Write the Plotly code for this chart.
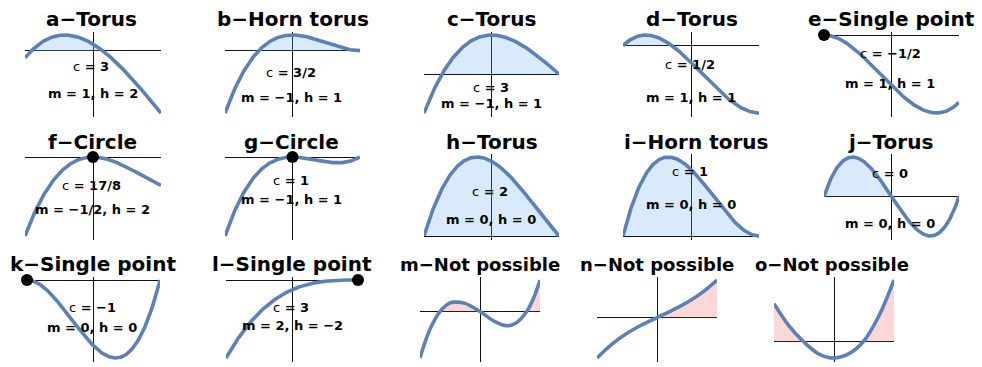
from fractions import Fraction

import numpy as np
import plotly.graph_objects as go

W, H = 982, 367

# ---- labelled panels: P(x) = (x^2 - 1)(x - c) - m*h*x - (m^2 + h^2)/2 on [-1, 1]
LETTERS = ["a", "b", "c", "d", "e", "f", "g", "h", "i", "j", "k", "l"]
KINDS = ["Torus", "Horn torus", "Torus", "Torus", "Single point",
         "Circle", "Circle", "Torus", "Horn torus", "Torus",
         "Single point", "Single point"]
C_TXT = ["3", "3/2", "3", "1/2", "−1/2", "17/8", "1", "2", "1", "0", "−1", "3"]
M_TXT = ["1", "−1", "−1", "1", "1", "−1/2", "−1", "0", "0", "0", "0", "2"]
H_TXT = ["2", "1", "1", "1", "1", "2", "1", "0", "0", "0", "0", "−2"]

# ---- unlabelled "Not possible" panels: curve samples (x, y)
NP_LETTERS = ["m", "n", "o"]
NP_X = [
    [-1, -0.9, -0.8, -0.667, -0.5, -0.417, -0.25, 0, 0.25, 0.444, 0.6, 0.778, 0.9, 1],
    [-1, -0.75, -0.5, -0.25, 0, 0.25, 0.5, 0.75, 1],
    [-1, -0.75, -0.51, -0.25, 0, 0.25, 0.49, 0.75, 1],
]
NP_Y = [
    [-46.7, -28.0, -13.5, 0, 8.6, 9.5, 8.2, 0, -10.2, -14.3, -11.5, 0, 14.5, 31.7],
    [-40.7, -26.7, -15.9, -7.3, 0, 7.2, 15.1, 25.0, 37.7],
    [38.3, 15.9, 0, -12.7, -16.7, -12.3, 0, 26.1, 62.3],
]

# ---- layout (pixels)
PANEL_X = [
    [(25, 161), (225, 360), (424, 559), (623, 759), (824, 959)],
    [(25, 161), (225, 360), (424, 559), (623, 759), (824, 959)],
    [(27, 160), (226, 358), (420, 540), (597, 717), (774, 894)],
]
ROW_Y = [(35, 113), (157, 236), (280, 358)]
AX_PAD = 3.5
TITLE_X = [
    [91.5, 292.5, 491.5, 691.5, 891],
    [92, 291.5, 491.5, 696, 890.5],
    [92.5, 292, 479.5, 656.5, 832],
]
TITLE_BASE = [26, 149, 271]
LABEL_POS = [  # (x, y line 1), (x, y line 2)
    ((90.5, 66), (92.5, 93)), ((291, 72), (291.5, 98)), ((491, 87), (491, 104)),
    ((690, 64), (691, 97)), ((890, 53), (890, 83)),
    ((91, 185), (92.5, 209)), ((291, 180), (291, 199)), ((490, 192), (491, 219)),
    ((690, 171), (691, 204)), ((890, 173), (890, 223)),
    ((92, 307), (92, 327)), ((291, 307), (292, 325)),
]

LINE_COLOR = "#5E81B5"
BLUE_FILL = "rgba(100,170,240,0.25)"
RED_FILL = "rgba(245,110,110,0.28)"
FONT = "DejaVu Sans"


def num(s):
    return float(Fraction(s.replace("−", "-")))


def positive_runs(xs, ys):
    runs, cur = [], []
    for x, y in zip(xs, ys):
        if y >= 0:
            cur.append((x, y))
        else:
            if len(cur) > 1:
                runs.append(cur)
            cur = []
    if len(cur) > 1:
        runs.append(cur)
    return runs


fig = go.Figure()
annotations = []
layout_axes = {}


def add_axes(idx, row, col, ymin, ymax):
    x0, x1 = PANEL_X[row][col]
    y0, y1 = ROW_Y[row]
    unit = (ymax - ymin) / (y1 - y0)
    sfx = "" if idx == 0 else str(idx + 1)
    common = dict(showgrid=False, showticklabels=False, ticks="", showline=False,
                  zeroline=True, zerolinecolor="#111", zerolinewidth=1, fixedrange=True)
    layout_axes["xaxis" + sfx] = dict(domain=[x0 / W, x1 / W], range=[-1, 1],
                                      anchor="y" + sfx, **common)
    layout_axes["yaxis" + sfx] = dict(domain=[1 - (y1 + AX_PAD) / H, 1 - (y0 - AX_PAD) / H],
                                      range=[ymin - AX_PAD * unit, ymax + AX_PAD * unit],
                                      anchor="x" + sfx, **common)
    return "x" + sfx, "y" + sfx


def add_title(text, row, col, size):
    annotations.append(dict(text="<b>" + text + "</b>", x=TITLE_X[row][col] / W,
                            y=1 - (TITLE_BASE[row] - 0.36 * size) / H,
                            xref="paper", yref="paper", showarrow=False,
                            xanchor="center", yanchor="middle",
                            font=dict(family=FONT, size=size, color="black")))


xs = np.linspace(-1, 1, 401)
for i, letter in enumerate(LETTERS):
    row, col = divmod(i, 5)
    c, m, h = num(C_TXT[i]), num(M_TXT[i]), num(H_TXT[i])
    p = (xs ** 2 - 1) * (xs - c) - m * h * xs - (m ** 2 + h ** 2) / 2
    xa, ya = add_axes(i, row, col, p.min(), p.max())
    fig.add_trace(go.Scatter(x=xs, y=np.maximum(p, 0), mode="lines", fill="tozeroy",
                             fillcolor=BLUE_FILL, line=dict(width=0), hoverinfo="skip",
                             xaxis=xa, yaxis=ya, showlegend=False))
    fig.add_trace(go.Scatter(x=xs, y=p, mode="lines", line=dict(color=LINE_COLOR, width=3.6),
                             hoverinfo="skip", xaxis=xa, yaxis=ya, showlegend=False))
    if KINDS[i] in ("Circle", "Single point"):
        k = int(np.argmax(np.isclose(p, p.max(), atol=1e-9)))
        fig.add_trace(go.Scatter(x=[xs[k]], y=[p[k]], mode="markers",
                                 marker=dict(color="black", size=12), cliponaxis=False,
                                 hoverinfo="skip", xaxis=xa, yaxis=ya, showlegend=False))
    add_title(f"{letter}−{KINDS[i]}", row, col, 20)
    (lx1, ly1), (lx2, ly2) = LABEL_POS[i]
    for (lx, ly), txt in (((lx1, ly1), f"c<b> = {C_TXT[i]}</b>"),
                          ((lx2, ly2), f"<b>m = {M_TXT[i]}, h = {H_TXT[i]}</b>")):
        annotations.append(dict(text=txt, x=lx / W, y=1 - ly / H, xref="paper", yref="paper",
                                showarrow=False, xanchor="center", yanchor="middle",
                                font=dict(family=FONT, size=13, color="black")))

for j, letter in enumerate(NP_LETTERS):
    i = 12 + j
    row, col = divmod(i, 5)
    px, py = NP_X[j], NP_Y[j]
    xa, ya = add_axes(i, row, col, min(py), max(py))
    for run in positive_runs(px, py):
        rx, ry = zip(*run)
        fig.add_trace(go.Scatter(x=rx, y=ry, mode="lines", line_shape="spline", fill="tozeroy",
                                 fillcolor=RED_FILL, line=dict(width=0), hoverinfo="skip",
                                 xaxis=xa, yaxis=ya, showlegend=False))
    fig.add_trace(go.Scatter(x=px, y=py, mode="lines", line_shape="spline",
                             line=dict(color=LINE_COLOR, width=3.6), hoverinfo="skip",
                             xaxis=xa, yaxis=ya, showlegend=False))
    add_title(f"{letter}−Not possible", row, col, 18)

fig.update_layout(width=W, height=H, margin=dict(l=0, r=0, t=0, b=0),
                  paper_bgcolor="white", plot_bgcolor="white",
                  annotations=annotations, **layout_axes)
fig.write_html("out.html")
